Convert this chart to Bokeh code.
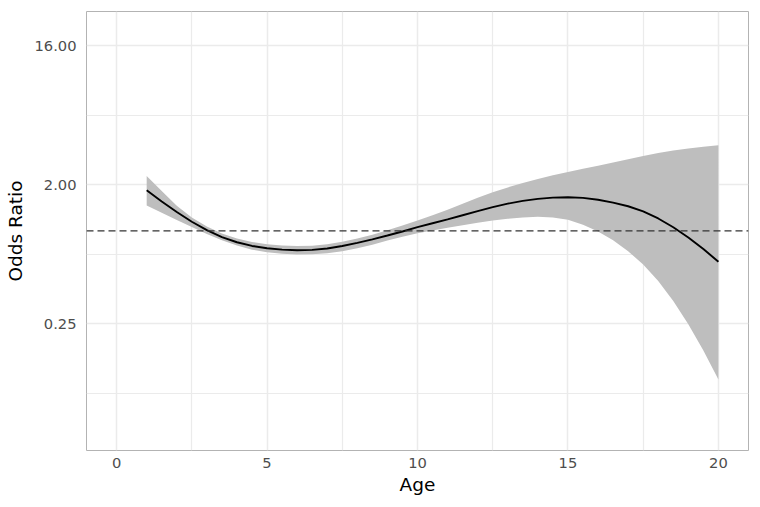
from bokeh.plotting import figure
from bokeh.models import FixedTicker, PrintfTickFormatter, Range1d, Span, ColumnDataSource
from bokeh.embed import file_html
from bokeh.resources import INLINE

# ---- data (odds ratios on a log2 scale) ----
age = [1.0, 1.5, 2.0, 2.5, 3.0, 3.5, 4.0, 4.5, 5.0, 5.5, 6.0, 6.5, 7.0, 7.5, 8.0, 8.5,
       9.0, 9.5, 10.0, 10.5, 11.0, 11.5, 12.0, 12.5, 13.0, 13.5, 14.0, 14.5, 15.0, 15.5,
       16.0, 16.5, 17.0, 17.5, 18.0, 18.5, 19.0, 19.5, 20.0]
log2_odds_ratio = [0.877, 0.635, 0.407, 0.197, 0.015, -0.133, -0.245, -0.325, -0.375, -0.405,
                   -0.418, -0.410, -0.380, -0.327, -0.259, -0.183, -0.100, -0.013, 0.080, 0.165,
                   0.250, 0.337, 0.425, 0.512, 0.588, 0.648, 0.692, 0.718, 0.727, 0.713,
                   0.672, 0.610, 0.532, 0.422, 0.268, 0.079, -0.141, -0.391, -0.666]
log2_ci_upper = [1.185, 0.860, 0.545, 0.290, 0.095, -0.055, -0.165, -0.240, -0.290, -0.315,
                 -0.328, -0.320, -0.290, -0.235, -0.165, -0.083, 0.015, 0.117, 0.225, 0.337,
                 0.455, 0.588, 0.715, 0.832, 0.938, 1.035, 1.120, 1.200, 1.270, 1.340,
                 1.405, 1.475, 1.545, 1.615, 1.680, 1.735, 1.780, 1.818, 1.847]
log2_ci_lower = [0.550, 0.390, 0.235, 0.085, -0.065, -0.200, -0.315, -0.405, -0.460, -0.495,
                 -0.508, -0.505, -0.480, -0.440, -0.375, -0.300, -0.210, -0.125, -0.050, 0.010,
                 0.070, 0.122, 0.175, 0.222, 0.260, 0.288, 0.303, 0.290, 0.240, 0.130,
                 -0.015, -0.203, -0.438, -0.728, -1.083, -1.511, -2.013, -2.583, -3.208]

x_ticks = [0, 5, 10, 15, 20]
x_minor_ticks = [2.5, 7.5, 12.5, 17.5]
y_ticks = [0.25, 2.0, 16.0]
y_minor_ticks = [0.0884, 0.7071, 5.657]
reference_or = 1.0

odds_ratio = [2 ** v for v in log2_odds_ratio]
ci_upper = [2 ** v for v in log2_ci_upper]
ci_lower = [2 ** v for v in log2_ci_lower]

src = ColumnDataSource(dict(age=age, odds_ratio=odds_ratio, lo=ci_lower, hi=ci_upper))

p = figure(width=752, height=499, output_backend="svg", toolbar_location=None,
           y_axis_type="log",
           x_range=Range1d(-1.0, 21.0), y_range=Range1d(0.0374, 26.65),
           min_border_left=86, min_border_right=4, min_border_top=11, min_border_bottom=49,
           background_fill_color="white", border_fill_color="white",
           styles={"outline": "1.5px solid #3d6cc9", "outline-offset": "-2px"})

p.outline_line_color = "#b3b3b3"
p.outline_line_width = 1

# axes
p.xaxis.ticker = FixedTicker(ticks=x_ticks, minor_ticks=x_minor_ticks)
p.yaxis.ticker = FixedTicker(ticks=y_ticks, minor_ticks=y_minor_ticks)
p.yaxis.formatter = PrintfTickFormatter(format="%.2f")
for ax in (p.xaxis, p.yaxis):
    ax.axis_line_color = None
    ax.major_tick_line_color = None
    ax.minor_tick_line_color = None
    ax.major_tick_out = 0
    ax.minor_tick_out = 0
    ax.major_tick_in = 0
    ax.minor_tick_in = 0
    ax.major_label_text_font = "DejaVu Sans"
    ax.major_label_text_font_size = "14.7px"
    ax.major_label_text_color = "#4d4d4d"
    ax.axis_label_text_font = "DejaVu Sans"
    ax.axis_label_text_font_size = "18.5px"
    ax.axis_label_text_font_style = "normal"
    ax.axis_label_text_color = "black"
p.xaxis.axis_label = "Age"
p.yaxis.axis_label = "Odds Ratio"
p.xaxis.major_label_standoff = 7
p.yaxis.major_label_standoff = 10
p.xaxis.axis_label_standoff = 3
p.yaxis.axis_label_standoff = 5

# grids
for g in (p.xgrid, p.ygrid):
    g.grid_line_color = "#ebebeb"
    g.grid_line_width = 1.5
    g.minor_grid_line_color = "#ebebeb"
    g.minor_grid_line_width = 1.2

# confidence band and curve
p.varea(x="age", y1="lo", y2="hi", source=src, fill_color="#bebebe", fill_alpha=1.0)
p.add_layout(Span(location=reference_or, dimension="width", line_color="#333333",
                  line_width=1.4, line_dash="7 4"))
p.line(x="age", y="odds_ratio", source=src, line_color="black", line_width=1.9)

open("out.html", "w").write(file_html(p, INLINE))
